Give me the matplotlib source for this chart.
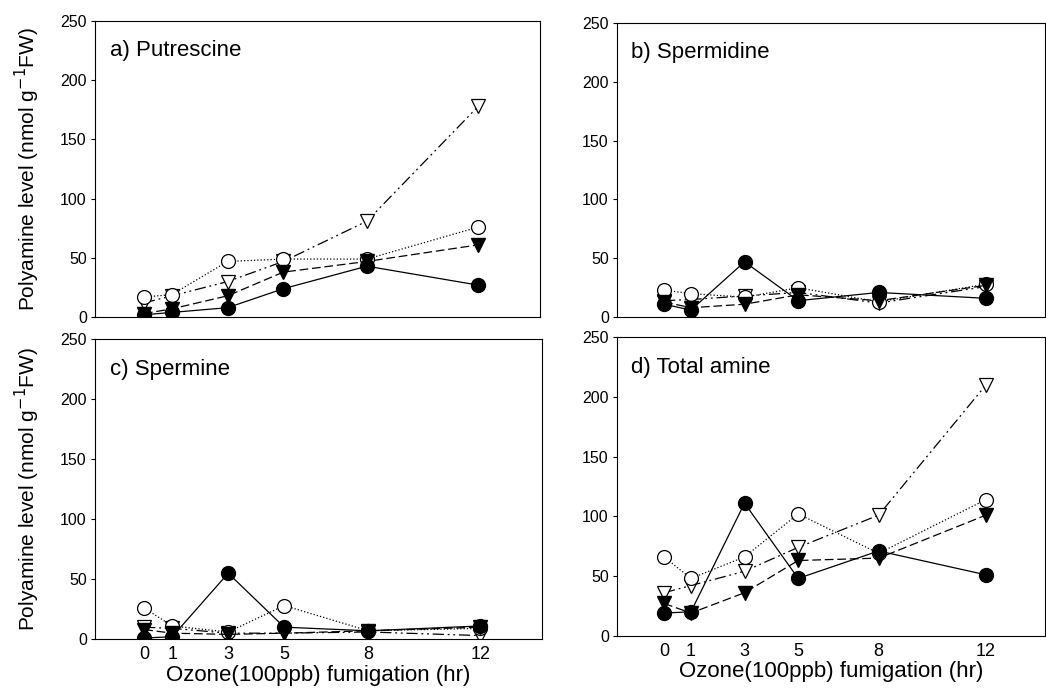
import matplotlib
matplotlib.use("Agg")
import matplotlib.pyplot as plt

plt.rcParams['font.family'] = ['Liberation Sans', 'DejaVu Sans']

hours = [0, 1, 3, 5, 8, 12]
xtick_labels = ['0', '1', '3', '5', '8', '12']
yticks = [0, 50, 100, 150, 200, 250]

# a) Putrescine
put_fc = [2, 4, 8, 24, 43, 27]
put_ft = [3, 7, 18, 38, 47, 61]
put_oc = [17, 19, 47, 49, 49, 76]
put_ot = [12, 18, 30, 47, 81, 178]

# b) Spermidine
spd_fc = [11, 6, 47, 14, 21, 16]
spd_ft = [13, 8, 11, 19, 14, 27]
spd_oc = [23, 20, 17, 25, 13, 28]
spd_ot = [14, 15, 18, 21, 12, 26]

# c) Spermine
spm_fc = [1, 2, 55, 10, 7, 11]
spm_ft = [8, 5, 4, 5, 7, 10]
spm_oc = [26, 11, 6, 28, 7, 9]
spm_ot = [10, 9, 5, 5, 6, 3]

# d) Total amine
tot_fc = [19, 20, 111, 48, 71, 51]
tot_ft = [27, 19, 36, 63, 65, 101]
tot_oc = [66, 48, 66, 102, 69, 114]
tot_ot = [36, 42, 54, 74, 101, 210]

panels = [
    ("a) Putrescine", put_fc, put_ft, put_oc, put_ot),
    ("b) Spermidine", spd_fc, spd_ft, spd_oc, spd_ot),
    ("c) Spermine", spm_fc, spm_ft, spm_oc, spm_ot),
    ("d) Total amine", tot_fc, tot_ft, tot_oc, tot_ot),
]

positions = [
    [0.091, 0.541, 0.425, 0.429],
    [0.590, 0.541, 0.409, 0.426],
    [0.091, 0.075, 0.427, 0.434],
    [0.590, 0.080, 0.409, 0.432],
]

fig = plt.figure(figsize=(10.46, 6.91), dpi=100)

for i, (title, fc, ft, oc, ot) in enumerate(panels):
    ax = fig.add_axes(positions[i])
    ms = 10
    ax.plot(hours, ot, color='black', lw=0.9, dashes=(9, 3, 1.5, 3, 1.5, 3),
            marker='v', ms=ms, mfc='white', mec='black', mew=0.9)
    ax.plot(hours, oc, color='black', lw=0.9, ls=':',
            marker='o', ms=ms, mfc='white', mec='black', mew=0.9)
    ax.plot(hours, ft, color='black', lw=0.9, dashes=(7, 3),
            marker='v', ms=ms, mfc='black', mec='black')
    ax.plot(hours, fc, color='black', lw=0.9, ls='-',
            marker='o', ms=ms, mfc='black', mec='black')

    ax.set_xlim(-1.75, 14.2)
    ax.set_ylim(0, 250)
    ax.set_yticks(yticks)
    ax.tick_params(axis='y', labelsize=11.5, length=3, width=0.8,
                   direction='out', pad=3)
    for sp in ax.spines.values():
        sp.set_linewidth(0.8)

    ax.text(0.033, 0.935, title, transform=ax.transAxes, fontsize=16,
            ha='left', va='top')

    if i >= 2:
        ax.set_xticks(hours)
        ax.set_xticklabels(xtick_labels)
        ax.tick_params(axis='x', labelsize=13, length=0, pad=5)
        ax.set_xlabel('Ozone(100ppb) fumigation (hr)', fontsize=16, labelpad=1)
    else:
        ax.set_xticks([])

    if i % 2 == 0:
        ax.set_ylabel('Polyamine level (nmol g$^{-1}$FW)', fontsize=15,
                      labelpad=13)

fig.savefig('out.png', dpi=100)
